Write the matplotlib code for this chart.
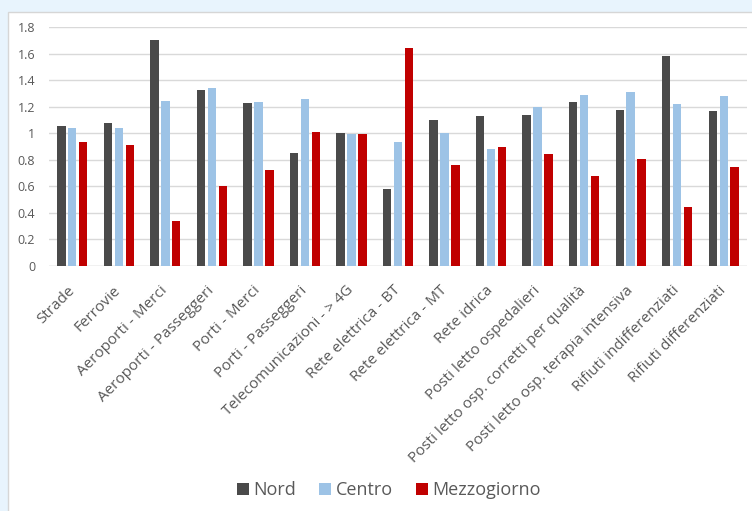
import matplotlib
matplotlib.use("Agg")
import matplotlib.pyplot as plt
import numpy as np
from matplotlib.patches import Rectangle

categories = ["Strade", "Ferrovie", "Aeroporti - Merci", "Aeroporti - Passeggeri",
              "Porti - Merci", "Porti - Passeggeri", "Telecomunicazioni - > 4G",
              "Rete elettrica - BT", "Rete elettrica - MT", "Rete idrica",
              "Posti letto ospedalieri", "Posti letto osp. corretti per qualità",
              "Posti letto osp. terapia intensiva", "Rifiuti indifferenziati",
              "Rifiuti differenziati"]
nord = [1.055, 1.08, 1.70, 1.324, 1.224, 0.854, 1.00, 0.583, 1.103, 1.128,
        1.138, 1.234, 1.176, 1.578, 1.171]
centro = [1.043, 1.038, 1.239, 1.344, 1.234, 1.261, 0.995, 0.937, 1.005, 0.879,
          1.198, 1.286, 1.309, 1.219, 1.281]
mezzogiorno = [0.935, 0.915, 0.342, 0.606, 0.726, 1.008, 0.992, 1.643, 0.759, 0.897,
               0.844, 0.676, 0.807, 0.447, 0.749]
series_names = ["Nord", "Centro", "Mezzogiorno"]
yticks = [0, 0.2, 0.4, 0.6, 0.8, 1, 1.2, 1.4, 1.6, 1.8]
ytick_labels = ["0", "0.2", "0.4", "0.6", "0.8", "1", "1.2", "1.4", "1.6", "1.8"]

plt.rcParams['font.family'] = ['Open Sans', 'DejaVu Sans']
W, H = 752, 511
fig = plt.figure(figsize=(W / 100, H / 100), dpi=100)
fig.patch.set_facecolor("#e8f4fd")
# white panel
fig.patches.append(Rectangle((8 / W, -0.01), 1, 1 - 12 / H + 0.01, transform=fig.transFigure,
                             facecolor="white", edgecolor="#d6d6d6", linewidth=1, zorder=-10))

ax = fig.add_axes([49 / W, 1 - 266 / H, (747 - 49) / W, (266 - 27) / H])
ax.set_zorder(5)
ax.set_facecolor("none")
x = np.arange(len(categories))
colors = ["#4a4a4a", "#9dc3e6", "#c00000"]
bw = 0.18
off = 0.235
for i, (vals, c, name) in enumerate(zip([nord, centro, mezzogiorno], colors, series_names)):
    ax.bar(x + (i - 1) * off, vals, width=bw, color=c, label=name, zorder=3)

ax.set_xlim(-0.5, len(categories) - 0.5)
ax.set_ylim(0, 1.8)
ax.set_yticks(yticks)
ax.set_yticklabels(ytick_labels)
ax.yaxis.grid(True, color="#d9d9d9", linewidth=1, zorder=0)
ax.set_axisbelow(True)
for s in ax.spines.values():
    s.set_visible(False)
ax.axhline(0, color="#d9d9d9", linewidth=1, zorder=1)
ax.tick_params(axis="both", length=0, colors="#595959", labelsize=9)
ax.tick_params(axis="y", pad=10)
ax.set_xticks(x)
ax.set_xticklabels(categories, rotation=45, ha="right", va="center",
                   rotation_mode="anchor", fontsize=11)
ax.tick_params(axis="x", pad=16)

leg = fig.legend(loc="center", bbox_to_anchor=(389 / W, 1 - 490 / H), ncol=3, frameon=False,
                 fontsize=13, handlelength=0.65, handleheight=0.65, handletextpad=0.25,
                 columnspacing=1.3)
for t in leg.get_texts():
    t.set_color("#595959")

fig.savefig("out.png", dpi=100, facecolor=fig.get_facecolor())
